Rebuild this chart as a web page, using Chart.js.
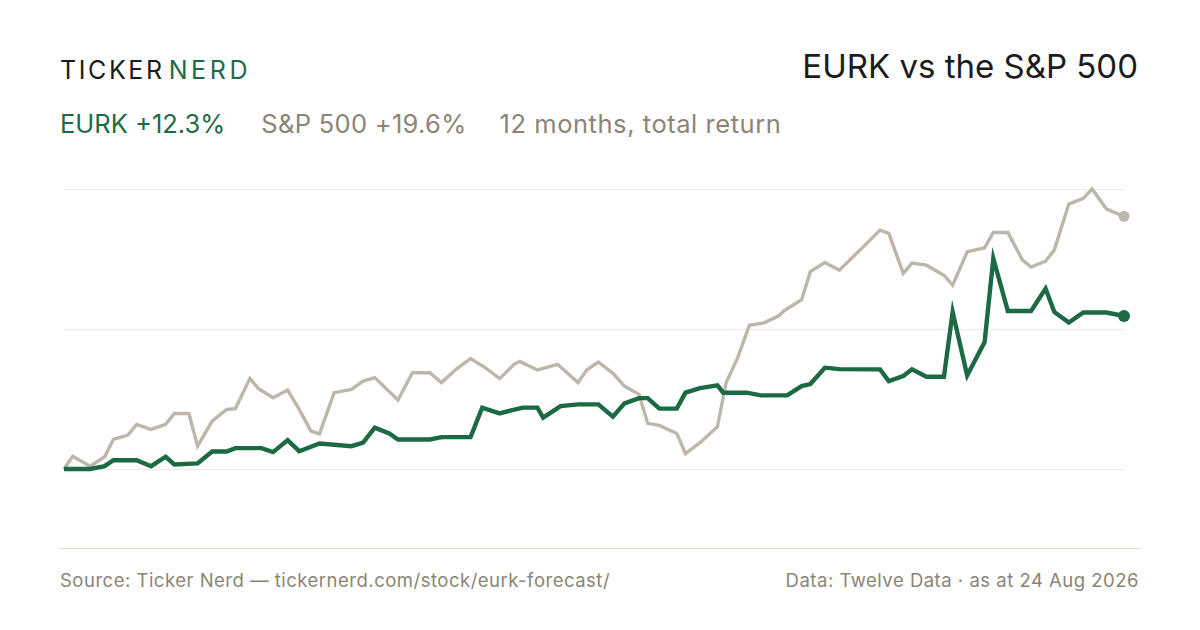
<!DOCTYPE html>
<html><head><meta charset="utf-8">
<script src="https://cdn.jsdelivr.net/npm/chart.js@4.4.1/dist/chart.umd.min.js"></script>
<style>
html,body{margin:0;padding:0;background:#fff;}
body{width:1200px;height:630px;position:relative;overflow:hidden;font-family:Inter,"Noto Sans",sans-serif;}
.abs{position:absolute;white-space:nowrap;line-height:1;}
#logo{left:60px;top:57.5px;font-size:25px;letter-spacing:2.6px;color:#1c1c1c;}
#logo .g{color:#1d6b46;margin-left:4px;letter-spacing:3.6px;}
#title{right:62px;top:49.8px;font-size:33px;color:#1c1c1c;}
#sub{left:60px;top:111.3px;font-size:25.5px;letter-spacing:0.3px;color:#8a8576;}
#sub .e{color:#1d6b46;letter-spacing:0;}
#sub .s{margin-left:36px;}
#sub .m{margin-left:33px;letter-spacing:0.55px;}
#sep{left:60px;top:548px;width:1080px;height:0;border-top:1.5px solid #dfdbd1;}
#srcL{left:60px;top:571px;font-size:18.5px;letter-spacing:0.5px;color:#8a8576;}
#srcR{right:61px;top:571px;font-size:18.5px;letter-spacing:0.5px;color:#8a8576;}
#wrap{left:54px;top:179px;width:1080px;height:300px;}
</style></head>
<body>
<div class="abs" id="logo">TICKER<span class="g">NERD</span></div>
<div class="abs" id="title">EURK vs the S&amp;P 500</div>
<div class="abs" id="sub"><span class="e">EURK +12.3%</span><span class="s">S&amp;P 500 +19.6%</span><span class="m">12 months, total return</span></div>
<div class="abs" id="wrap"><canvas id="c"></canvas></div>
<div class="abs" id="sep"></div>
<div class="abs" id="srcL">Source: Ticker Nerd — tickernerd.com/stock/eurk-forecast/</div>
<div class="abs" id="srcR">Data: Twelve Data · as at 24 Aug 2026</div>
<script>
// Days since start of the 12-month window, and cumulative total return (%)
const eurkDays = [0,9,14,17,25,30,35,38,46,51,56,59,68,72,77,81,88,99,103,107,112,115,126,130,140,144,150,154,158,163,165,171,177,184,189,193,198,201,205,211,214,219,225,227,235,240,249,254,257,262,267,281,284,289,292,297,303,306,311,317,320,325,333,338,341,346,351,359,365];
const eurkReturns = [0,0,0.22,0.68,0.68,0.22,0.95,0.35,0.43,1.36,1.36,1.62,1.62,1.31,2.24,1.38,1.98,1.77,2.04,3.20,2.76,2.29,2.29,2.47,2.47,4.76,4.31,4.55,4.76,4.76,3.98,4.88,5.01,5.01,4.06,5.09,5.50,5.50,4.68,4.68,5.92,6.28,6.49,5.92,5.92,5.71,5.71,6.43,6.59,7.86,7.75,7.73,6.82,7.21,7.73,7.16,7.16,12.18,7.26,9.85,16.33,12.26,12.26,14.00,12.18,11.36,12.14,12.14,11.87];
const spxDays = [0,3,9,14,17,22,25,30,35,38,43,46,51,56,59,64,67,72,77,81,85,88,93,99,103,107,115,120,126,130,135,140,145,150,155,157,163,170,177,180,184,189,193,198,201,205,211,214,219,225,228,232,236,241,246,248,254,257,262,267,275,281,284,289,292,297,303,306,311,317,320,325,330,333,338,341,346,351,354,359,365];
const spxReturns = [0,0.99,0.22,0.95,2.29,2.63,3.46,3.07,3.46,4.31,4.31,1.77,3.71,4.62,4.68,7.01,6.23,5.53,6.12,4.62,2.94,2.72,5.92,6.18,6.82,7.09,5.35,7.47,7.47,6.70,7.73,8.56,7.86,7.01,8.12,8.35,7.68,8.12,6.70,7.68,8.30,7.42,6.43,5.79,3.54,3.38,2.76,1.20,2.04,3.28,6.70,8.64,11.15,11.34,11.87,12.28,13.13,15.32,16.02,15.42,17.19,18.53,18.28,15.17,15.97,15.81,15.03,14.26,16.85,17.16,18.35,18.35,16.22,15.66,16.12,17.00,20.55,20.99,21.72,20.16,19.60];
const seriesNames = ["EURK","S&P 500"];
const windowDays = 365;

const green = "#1b6a44", grey = "#bcb6ab";
const toPts = (d, v) => d.map((x, i) => ({x: x, y: v[i]}));
const allVals = eurkReturns.concat(spxReturns);
const yMin = Math.min(...allVals), yMax = Math.max(...allVals);
const lastDot = (r) => (ctx) => ctx.dataIndex === ctx.dataset.data.length - 1 ? r : 0;

new Chart(document.getElementById("c"), {
  type: "line",
  data: {
    datasets: [
      {label: seriesNames[1], data: toPts(spxDays, spxReturns), borderColor: grey, backgroundColor: grey,
       borderWidth: 3.4, pointRadius: lastDot(5.5), pointBorderWidth: 0, pointHoverRadius: 0, tension: 0, clip: false, order: 2},
      {label: seriesNames[0], data: toPts(eurkDays, eurkReturns), borderColor: green, backgroundColor: green,
       borderWidth: 4.4, pointRadius: lastDot(6), pointBorderWidth: 0, pointHoverRadius: 0, tension: 0, clip: false, order: 1}
    ]
  },
  options: {
    responsive: true, maintainAspectRatio: false, animation: false,
    layout: {padding: 10},
    plugins: {legend: {display: false}, tooltip: {enabled: false}},
    scales: {
      x: {type: "linear", min: 0, max: windowDays, display: false},
      y: {type: "linear", min: yMin, max: yMax,
          afterBuildTicks: (s) => { s.ticks = [yMin, (yMin + yMax) / 2, yMax].map(v => ({value: v})); },
          ticks: {display: false}, border: {display: false},
          grid: {color: "#ece9e3", lineWidth: 1, drawTicks: false}}
    }
  }
});
</script>
</body></html>
